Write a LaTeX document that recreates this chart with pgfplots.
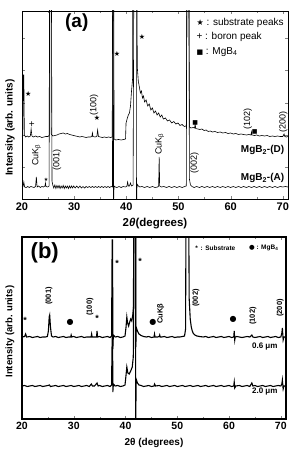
\documentclass[border=0pt]{standalone}
\usepackage{fontspec}
\setmainfont{Liberation Sans}
\newfontfamily\sym{DejaVu Sans}
\usepackage{pgfplots}
\pgfplotsset{compat=1.18}
\begin{document}
\begin{tikzpicture}
\path[use as bounding box] (0,0) rectangle (289pt,452pt);
% ---------------- panel (a)
\begin{axis}[at={(22pt,253pt)}, anchor=south west, scale only axis,
  width=266pt, height=188pt, xmin=20, xmax=71, ymin=0, ymax=188,
  xtick={20,30,...,70}, minor xtick={25,35,...,65},
  ytick={32,64,96,129,161}, yticklabels={},
  tick align=inside, tick pos=both, major tick length=3pt, minor tick length=2pt,
  axis line style={line width=0.9pt},
  /pgf/number format/assume math mode=true,
  xticklabel style={font=\fontsize{11}{12}\selectfont\bfseries},
  xlabel={\bfseries 2\textit{θ}(degrees)},
  xlabel style={font=\fontsize{11.5}{12}\selectfont, at={(axis description cs:0.5,-0.128)}, anchor=center},
  ylabel={\bfseries Intensity (arb. units)},
  ylabel style={font=\fontsize{10}{12}\selectfont, at={(axis description cs:-0.045,0.38)}, anchor=center},
  clip=true]
\addplot[black, line width=0.6pt] coordinates {
(20.0,62)(20.15,63)(20.25,124)(20.35,124)(20.45,64)(20.7,62)(21.0,63)(21.3,62)(21.6,63)(21.75,70)(21.9,63)(22.2,62)(22.6,63)(23.0,62)(23.4,62.5)(23.8,61.5)(24.2,62)(24.6,62.5)(25.0,62.5)(25.25,64)(25.3,300)(25.55,300)(25.6,65)(25.9,63)(26.3,63.5)(26.7,64)(27.1,65)(27.5,65.5)(27.9,66)(28.3,65)(28.7,65.5)(29.1,64.5)(29.5,64)(29.9,63.5)(30.3,63)(30.7,62.5)(31.1,62)(31.5,62.5)(31.9,62)(32.3,61.5)(32.7,62)(33.1,62)(33.4,62.5)(33.5,66)(33.6,62.5)(34.0,62)(34.35,62.5)(34.5,69)(34.65,62.5)(35.0,62)(35.4,61.5)(35.8,62)(36.2,61.5)(36.6,62)(37.0,61.5)(37.3,62)(37.42,300)(37.55,300)(37.65,60)(38.0,59)(38.5,59.5)(39.0,59)(39.5,59.5)(39.85,60)(39.95,76)(40.2,81)(40.4,84)(40.6,86)(40.8,93)(41.0,108)(41.2,120)(41.3,300)(42.0,300)(42.1,132)(42.3,118)(42.5,112)(42.7,106)(42.9,108)(43.1,101)(43.3,103)(43.5,97)(43.8,99)(44.1,93)(44.4,95)(44.7,89)(45.0,91)(45.3,86)(45.6,88)(45.9,84)(46.2,86)(46.5,82)(46.8,84)(47.1,80)(47.5,81)(47.9,78)(48.3,79)(48.7,76)(49.1,77.5)(49.5,75)(49.9,76)(50.3,73.5)(50.7,74.5)(51.1,72.5)(51.5,73)(51.7,300)(51.95,300)(52.1,72)(52.4,71)(52.8,71.5)(53.1,71)(53.2,75)(53.3,70.5)(53.7,70)(54.1,69.5)(54.5,70)(54.9,68.5)(55.3,69)(55.7,67.5)(56.1,68)(56.5,67)(57,67.5)(57.5,66.5)(58,67)(58.5,66)(59,66.5)(59.5,65.5)(60,66)(60.5,65)(61,65.5)(61.5,64.5)(62,65)(62.5,64.5)(63,64)(63.5,64.5)(63.9,64)(64.0,67)(64.1,64)(64.6,63.5)(65,64)(65.5,63)(66,63.5)(66.5,63)(67,63.5)(67.5,62.5)(68,63)(68.5,62.5)(69,63)(69.5,62.5)(70,62.5)(70.25,65)(70.4,62.5)(70.7,62)(71,62.5)
};
\addplot[black, line width=0.6pt] coordinates {
(20.0,12)(20.2,12.5)(20.35,17)(20.5,12)(20.8,11.5)(21.1,12.5)(21.4,11.5)(21.7,12.5)(22.0,12)(22.3,11.5)(22.6,12.5)(22.75,22)(22.9,12)(23.2,13)(23.5,11.5)(23.8,12.5)(24.1,12)(24.4,13)(24.5,16)(24.6,12.5)(24.9,12)(25.2,13)(25.3,300)(25.6,300)(25.75,18)(25.9,14)(26.1,11)(26.3,14)(26.5,10.5)(26.7,13.5)(26.9,11)(27.1,13.5)(27.3,10.5)(27.5,13)(27.7,11)(27.9,13.5)(28.1,10.5)(28.3,13)(28.5,11)(28.7,13)(28.9,10.5)(29.1,13)(29.3,11)(29.5,13)(29.7,11)(29.9,13)(30.2,11)(30.5,13)(30.8,11)(31.1,13)(31.4,11)(31.7,12.5)(32.0,11)(32.3,12.5)(32.6,11.5)(32.9,12.5)(33.2,11.5)(33.5,12.5)(33.8,11.5)(34.1,12.5)(34.4,11.5)(34.7,12.5)(35.0,11.5)(35.3,12.5)(35.6,11.5)(35.9,12.5)(36.2,11.5)(36.5,12.5)(36.8,11.5)(37.1,12.5)(37.35,12)(37.42,300)(37.5,300)(37.55,-5)(37.65,13)(37.9,12)(38.2,11.5)(38.6,12.5)(39.0,11.5)(39.4,12.5)(39.8,12)(40.1,12.5)(40.25,17)(40.4,13)(40.6,13)(40.8,16)(41.0,13)(41.3,14)(41.5,300)(41.9,300)(41.95,-20)(42.05,15)(42.3,13)(42.6,12)(43,12.5)(43.5,11.5)(44,12.5)(44.5,11.5)(45,12.5)(45.5,11.5)(46.0,12)(46.2,13)(46.3,42)(46.4,13)(46.7,12)(47.2,12.5)(47.7,11.5)(48.2,12.5)(48.7,11.5)(49.2,12.5)(49.7,11.5)(50.2,12.5)(50.7,11.5)(51.2,12.5)(51.5,13)(51.65,300)(51.95,300)(52.1,20)(52.3,14)(52.6,12.5)(53,11.5)(53.5,12.5)(54,11.5)(54.5,12.5)(55,11.5)(55.5,12.5)(56,11.5)(56.5,12.5)(57,11.5)(57.5,12.5)(58,11.5)(58.5,12.5)(59,11.5)(59.5,12.5)(60,11.5)(60.5,12.5)(61,11.5)(61.5,12.5)(62,11.5)(62.5,12.5)(63,11.5)(63.5,12.5)(64,11.5)(64.5,12.5)(65,11.5)(65.5,12.5)(66,11.5)(66.5,12.5)(67,11.5)(67.5,12.5)(68,11.5)(68.5,12.5)(69,11.5)(69.5,12.5)(70,12)(70.5,12.5)(71,12)
};
\node[font=\fontsize{19}{20}\selectfont\bfseries] at (axis cs:30.5,176) {(a)};
\node[anchor=west, font=\fontsize{10}{11}\selectfont] at (axis cs:52.8,176) {{\sym\fontsize{8}{9}\selectfont ★} : substrate peaks};
\node[anchor=west, font=\fontsize{10}{11}\selectfont] at (axis cs:52.8,162) {+ : boron peak};
\node[anchor=west, font=\fontsize{10}{11}\selectfont] at (axis cs:52.8,147) {{\sym\fontsize{7}{8}\selectfont ■} : MgB\textsubscript{4}};
\node[font=\sym\fontsize{7}{8}\selectfont] at (axis cs:21.2,105) {★};
\node[font=\fontsize{10}{11}\selectfont] at (axis cs:21.9,74) {+};
\node[font=\fontsize{9}{10}\selectfont, rotate=90] at (axis cs:33.8,94) {(100)};
\node[font=\sym\fontsize{7}{8}\selectfont] at (axis cs:34.4,81) {★};
\node[font=\sym\fontsize{7}{8}\selectfont] at (axis cs:38.2,145) {★};
\node[font=\sym\fontsize{7}{8}\selectfont] at (axis cs:43.0,162) {★};
\node[font=\sym\fontsize{6}{7}\selectfont] at (axis cs:53.2,76) {■};
\node[font=\fontsize{9}{10}\selectfont, rotate=90] at (axis cs:63.3,80) {(102)};
\node[font=\sym\fontsize{6}{7}\selectfont] at (axis cs:64.6,67) {■};
\node[font=\fontsize{9}{10}\selectfont, rotate=90] at (axis cs:70.1,77) {(200)};
\node[anchor=east, font=\fontsize{10}{11}\selectfont\bfseries] at (axis cs:70.95,49) {MgB\textsubscript{2}-(D)};
\node[anchor=east, font=\fontsize{10}{11}\selectfont\bfseries] at (axis cs:70.95,21) {MgB\textsubscript{2}-(A)};
\node[font=\fontsize{9}{10}\selectfont, rotate=90] at (axis cs:22.8,44) {CuK\textsubscript{β}};
\node[font=\fontsize{9}{10}\selectfont, rotate=90] at (axis cs:26.7,39) {(001)};
\node[font=\sym\fontsize{5}{6}\selectfont] at (axis cs:24.6,19) {★};
\node[font=\fontsize{9}{10}\selectfont, rotate=90] at (axis cs:46.4,55) {CuK\textsubscript{β}};
\node[font=\fontsize{9}{10}\selectfont, rotate=90] at (axis cs:53.1,36) {(002)};
\end{axis}
% ---------------- panel (b)
\begin{axis}[at={(22pt,33pt)}, anchor=south west, scale only axis,
  width=264pt, height=182pt, xmin=20, xmax=71, ymin=0, ymax=182,
  xtick={20,30,...,70}, minor xtick={25,35,...,65},
  ytick=\empty,
  tick align=inside, tick pos=both, major tick length=3pt, minor tick length=2pt,
  axis line style={line width=1.3pt},
  /pgf/number format/assume math mode=true,
  xticklabel style={font=\fontsize{10.5}{12}\selectfont\bfseries},
  xlabel={\bfseries 2θ (degrees)},
  xlabel style={font=\fontsize{10}{12}\selectfont, at={(axis description cs:0.5,-0.132)}, anchor=center},
  ylabel={\bfseries Intensity (arb. units)},
  ylabel style={font=\fontsize{9.5}{12}\selectfont, at={(axis description cs:-0.046,0.48)}, anchor=center},
  clip=true]
\addplot[black, line width=1.1pt] coordinates {
(20,82)(20.5,82.5)(20.7,85)(20.9,82)(21.5,82.5)(22,81.5)(22.5,82)(23,82.5)(23.5,81.5)(24,82)(24.5,82)(24.9,82.5)(25.1,88)(25.25,102)(25.35,104)(25.5,92)(25.7,83)(26,82)(26.5,82.5)(27,81.5)(27.5,82)(28,82.5)(28.5,81.5)(29,82)(29.4,82)(29.5,84)(29.6,82)(30,82.5)(30.5,81.5)(31,82)(31.5,82.5)(32,81.5)(32.5,82)(33,82)(33.35,82)(33.45,85)(33.55,82)(34,82)(34.4,82)(34.5,88)(34.6,82)(35,82.5)(35.5,81.5)(36,82)(36.5,82.5)(37,81.5)(37.3,83)(37.42,179)(37.5,179)(37.55,70)(37.65,84)(38,82)(38.5,82.5)(39,81.5)(39.5,82)(39.9,83)(40.1,92)(40.25,102)(40.4,96)(40.6,93)(40.8,97)(41.0,100)(41.2,98)(41.4,104)(41.55,112)(41.65,300)(41.95,300)(42.0,72)(42.05,92)(42.3,88)(42.6,85)(43,83.5)(43.5,82.5)(44,82)(44.5,82.5)(45,81.5)(45.5,82)(45.6,85)(45.7,82)(46.2,82)(46.5,82.5)(46.6,84)(46.7,82)(47,82)(47.5,82.5)(48,81.5)(48.5,82)(49,82.5)(49.5,81.5)(50,82)(50.5,82)(51,82.5)(51.4,83)(51.6,90)(51.75,300)(52.1,300)(52.3,120)(52.5,100)(52.7,92)(52.9,88)(53.1,85.5)(53.4,84)(53.8,83)(54.3,82.5)(55,82)(55.5,82.5)(56,81.5)(56.5,82)(57,82.5)(57.5,81.5)(58,82)(58.5,82.5)(59,81.5)(59.5,82)(60,82.5)(60.5,81.5)(60.9,82)(61.0,88)(61.1,79)(61.2,82)(61.5,82.5)(62,82)(62.5,81.5)(63,82)(63.5,82.5)(64,82)(64.4,84)(64.6,82)(65,81.5)(65.5,82)(66,82.5)(66.5,81.5)(67,82)(67.5,82.5)(68,81.5)(68.5,82)(69,82.5)(69.5,81.5)(70,82)(70.2,86)(70.3,91)(70.45,79)(70.6,82)(71,82)
};
\addplot[black, line width=1.1pt] coordinates {
(20,33)(20.5,33.5)(21,32.5)(21.5,33)(22,33.5)(22.5,32.5)(23,33)(23.5,33.5)(24,32.5)(24.5,33)(25,33.5)(25.3,34)(25.5,32.5)(26,33)(26.5,33.5)(27,32.5)(27.5,33)(28,33.5)(28.5,32.5)(29,33)(29.5,33.5)(30,32.5)(30.5,33)(31,33.5)(31.5,32.5)(32,33)(32.5,33.5)(33,32.5)(33.4,35)(33.6,33)(34,33)(34.5,36)(34.7,33)(35,33.5)(35.5,32.5)(36,33)(36.5,33.5)(37,32.5)(37.3,34)(37.42,82)(37.5,82)(37.55,27)(37.65,35)(38,33)(38.5,33.5)(39,32.5)(39.5,33)(39.9,34)(40.1,44)(40.25,52)(40.45,46)(40.7,45)(41,48)(41.3,52)(41.5,62)(41.65,300)(41.9,300)(41.95,-20)(42.05,40)(42.3,36)(42.6,34)(43,33.5)(43.5,32.5)(44,33)(44.5,33.5)(45,32.5)(45.5,33)(45.6,35)(45.8,33)(46.5,33.5)(47,32.5)(47.5,33)(48,33.5)(48.5,32.5)(49,33)(49.5,33.5)(50,32.5)(50.5,33)(51,33.5)(51.5,32.5)(52,33)(52.5,33.5)(53,32.5)(53.5,33)(54,33.5)(54.5,32.5)(55,33)(55.5,33.5)(56,32.5)(56.5,33)(57,33.5)(57.5,32.5)(58,33)(58.5,33.5)(59,32.5)(59.5,33)(60,33.5)(60.5,32.5)(60.9,33)(61.0,37)(61.1,31)(61.3,33)(62,33.5)(62.5,32.5)(63,33)(63.5,33.5)(64,32.5)(64.4,36)(64.6,33)(65,33.5)(65.5,32.5)(66,33)(66.5,33.5)(67,32.5)(67.5,33)(68,33.5)(68.5,32.5)(69,33)(69.5,33.5)(70,33)(70.2,35)(70.3,39)(70.45,30)(70.6,33)(71,33)
};
\node[font=\fontsize{22}{24}\selectfont\bfseries] at (axis cs:24.4,166) {(b)};
\node[anchor=west, font=\fontsize{6.5}{7}\selectfont\bfseries] at (axis cs:52.8,171) {* \,: Substrate};
\node[anchor=west, font=\fontsize{6.5}{7}\selectfont\bfseries] at (axis cs:63.2,171) {{\sym ●} : MgB\textsubscript{4}};
\node[font=\fontsize{9}{10}\selectfont\bfseries] at (axis cs:20.6,99) {*};
\node[font=\fontsize{7.5}{8}\selectfont\bfseries, rotate=90] at (axis cs:25.2,123) {(001)};
\node[font=\sym\fontsize{8}{9}\selectfont] at (axis cs:29.3,97) {●};
\node[font=\fontsize{7.5}{8}\selectfont\bfseries, rotate=90] at (axis cs:33.1,112) {(100)};
\node[font=\fontsize{9}{10}\selectfont\bfseries] at (axis cs:34.5,101) {*};
\node[font=\fontsize{9}{10}\selectfont\bfseries] at (axis cs:38.4,156) {*};
\node[font=\fontsize{9}{10}\selectfont\bfseries] at (axis cs:42.8,158) {*};
\node[font=\sym\fontsize{8}{9}\selectfont] at (axis cs:45.3,97) {●};
\node[font=\fontsize{7.5}{8}\selectfont\bfseries, rotate=90] at (axis cs:46.8,105) {CuKβ};
\node[font=\fontsize{7.5}{8}\selectfont\bfseries, rotate=90] at (axis cs:53.6,121) {(002)};
\node[font=\sym\fontsize{8}{9}\selectfont] at (axis cs:60.8,100) {●};
\node[font=\fontsize{7.5}{8}\selectfont\bfseries, rotate=90] at (axis cs:64.6,103) {(102)};
\node[font=\fontsize{7.5}{8}\selectfont\bfseries, rotate=90] at (axis cs:69.9,111) {(200)};
\node[font=\fontsize{8}{9}\selectfont\bfseries] at (axis cs:66.9,72) {0.6 μm};
\node[font=\fontsize{8}{9}\selectfont\bfseries] at (axis cs:66.9,27) {2.0 μm};
\end{axis}
\end{tikzpicture}
\end{document}
